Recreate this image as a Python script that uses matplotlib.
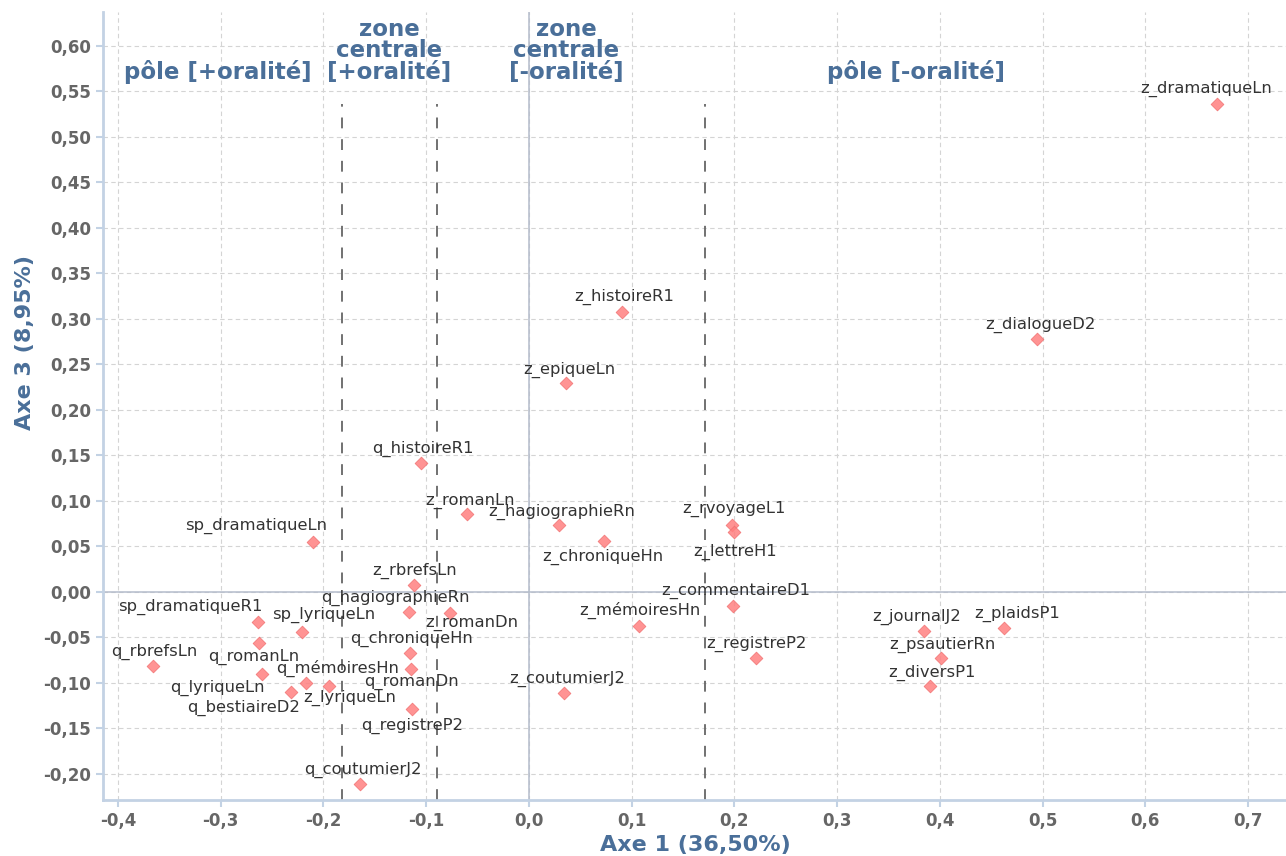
import matplotlib
matplotlib.use("Agg")
import matplotlib.pyplot as plt
from matplotlib.ticker import FuncFormatter, MultipleLocator

# coordonnées factorielles (axe 1, axe 3)
labels = [
    "z_dramatiqueLn", "z_dialogueD2", "z_histoireR1", "z_epiqueLn", "q_histoireR1",
    "z_romanLn", "z_hagiographieRn", "z_chroniqueHn", "z_rvoyageL1", "z_lettreH1",
    "sp_dramatiqueLn", "z_rbrefsLn", "z_commentaireD1", "q_hagiographieRn", "z_romanDn",
    "z_mémoiresHn", "sp_dramatiqueR1", "sp_lyriqueLn", "q_romanLn", "q_chroniqueHn",
    "q_romanDn", "q_rbrefsLn", "q_lyriqueLn", "q_mémoiresHn", "z_lyriqueLn",
    "q_bestiaireD2", "q_registreP2", "q_coutumierJ2", "z_coutumierJ2", "z_registreP2",
    "z_journalJ2", "z_plaidsP1", "z_psautierRn", "z_diversP1",
]
axe1 = [
    0.670, 0.495, 0.091, 0.036, -0.105,
    -0.060, 0.029, 0.073, 0.198, 0.200,
    -0.210, -0.112, 0.199, -0.117, -0.077,
    0.107, -0.264, -0.221, -0.263, -0.116,
    -0.115, -0.366, -0.260, -0.217, -0.195,
    -0.232, -0.114, -0.164, 0.034, 0.221,
    0.385, 0.462, 0.401, 0.390,
]
axe3 = [
    0.536, 0.278, 0.308, 0.229, 0.142,
    0.086, 0.073, 0.056, 0.074, 0.066,
    0.055, 0.008, -0.015, -0.022, -0.023,
    -0.037, -0.033, -0.044, -0.056, -0.067,
    -0.085, -0.081, -0.090, -0.100, -0.103,
    -0.110, -0.129, -0.211, -0.111, -0.073,
    -0.043, -0.040, -0.073, -0.103,
]
# décalage des étiquettes (pixels) pour éviter les chevauchements
label_dx = [-11, 3, 2, 3, 2, 3, 3, -1, 2, 1, -57, 1, 2, -13, 22, 1, -67, 22, -5, 2,
            1, 1, -44, 32, 21, -47, 0, 2, 3, 1, -8, 14, 2, 2]
label_dy = [15, 14, 15, 14, 14, 13, 14, -16, 16, -20, 16, 14, 15, 14, -10, 15, 15, 17, -14, 14,
            -13, 14, -14, 15, -12, -16, -17, 14, 14, 14, 14, 14, 13, 13]

# limites des zones
zone_bounds = [-0.182, -0.0896, 0.171]
zone_names = ["pôle [+oralité]", "zone\ncentrale\n[+oralité]",
              "zone\ncentrale\n[-oralité]", "pôle [-oralité]"]
zone_x = [-0.303, -0.136, 0.036, 0.377]

BLUE = "#4a6f99"
SPINE = "#c3d2e4"

fig = plt.figure(figsize=(12.86, 8.56), dpi=100)
ax = fig.add_axes([0.0801, 0.0654, 0.9199, 0.9206])

ax.set_xlim(-0.4146, 0.737)
ax.set_ylim(-0.2286, 0.637)
ax.xaxis.set_major_locator(MultipleLocator(0.1))
ax.yaxis.set_major_locator(MultipleLocator(0.05))
ax.xaxis.set_major_formatter(FuncFormatter(lambda v, p: f"{v:.1f}".replace(".", ",").replace("-0,0", "0,0")))
ax.yaxis.set_major_formatter(FuncFormatter(lambda v, p: f"{v:.2f}".replace(".", ",").replace("-0,00", "0,00")))

ax.grid(True, color="#d4d4d4", linestyle=(0, (4, 3)), linewidth=0.8)
ax.set_axisbelow(True)
ax.axhline(0, color="#b4bccb", linewidth=1.1, zorder=1)
ax.axvline(0, color="#b4bccb", linewidth=1.1, zorder=1)

for s in ["top", "right"]:
    ax.spines[s].set_visible(False)
for s in ["left", "bottom"]:
    ax.spines[s].set_color(SPINE)
    ax.spines[s].set_linewidth(2)
ax.tick_params(colors=SPINE, length=5, width=1.5, labelcolor="#666666", labelsize=12)
for t in ax.get_xticklabels() + ax.get_yticklabels():
    t.set_fontweight("bold")

for xb in zone_bounds:
    ax.plot([xb, xb], [ax.get_ylim()[0], 0.536], color="#666666", linewidth=1.3,
            linestyle=(0, (6, 6)), zorder=2)

for name, zx in zip(zone_names, zone_x):
    ax.text(zx, 0.558, name, ha="center", va="bottom", color=BLUE, fontsize=16.5,
            fontweight="bold", linespacing=0.92)

ax.scatter(axe1, axe3, marker="D", s=42, color="#ff8080", alpha=0.85,
           edgecolors="#f07070", linewidths=0.6, zorder=4)
for lab, x, y, dx, dy in zip(labels, axe1, axe3, label_dx, label_dy):
    ax.annotate(lab, (x, y), xytext=(dx, dy), textcoords="offset pixels",
                ha="center", va="center", fontsize=11.8, color="#333333", zorder=5)

ax.set_xlabel("Axe 1 (36,50%)", fontsize=16, fontweight="bold", color=BLUE)
ax.xaxis.set_label_coords(0.501, -0.045)
ax.set_ylabel("Axe 3 (8,95%)", fontsize=16, fontweight="bold", color=BLUE)
ax.yaxis.set_label_coords(-0.0575, 0.58)

fig.savefig("out.png", dpi=100)
